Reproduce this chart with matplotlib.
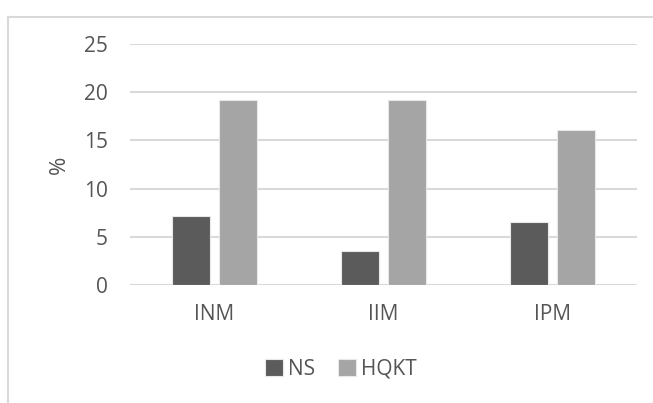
import numpy as np
import matplotlib.pyplot as plt
from matplotlib.lines import Line2D

plt.rcParams['font.family'] = ['Open Sans', 'DejaVu Sans']

categories = ['INM', 'IIM', 'IPM']
ns = [7.1, 3.5, 6.5]
hqkt = [19.2, 19.2, 16.1]
yticks = [0, 5, 10, 15, 20, 25]

text_color = '#555555'
grid_color = '#d9d9d9'

fig = plt.figure(figsize=(6.53, 4.03), dpi=100)
ax = fig.add_axes([0.199, 0.293, 0.776, 0.598])

x = np.arange(len(categories))
w = 0.225
off = 0.139
ax.bar(x - off, ns, width=w, color='#5b5b5b', edgecolor='#e8e8e8', linewidth=0.8, label='NS', zorder=3)
ax.bar(x + off, hqkt, width=w, color='#a5a5a5', edgecolor='#e8e8e8', linewidth=0.8, label='HQKT', zorder=3)

ax.set_xlim(-0.5, len(categories) - 0.5)
ax.set_ylim(0, 25)
ax.set_yticks(yticks)
ax.yaxis.grid(True, color=grid_color, linewidth=1.5)
ax.set_axisbelow(True)
for s in ax.spines.values():
    s.set_visible(False)
ax.tick_params(axis='y', length=0, labelsize=15, colors=text_color, pad=16)
ax.tick_params(axis='x', length=0, labelsize=15, colors=text_color, pad=14)
ax.set_xticks(x)
ax.set_xticklabels(categories)
ax.set_ylabel('%', fontsize=16, color=text_color, labelpad=10)

fig.legend(loc='center', bbox_to_anchor=(0.522, 0.084), ncol=2, frameon=False,
           fontsize=15, labelcolor=text_color, handlelength=0.85, handleheight=0.85,
           handletextpad=0.25, columnspacing=1.1)

# chart area border (top and left edges)
fig.add_artist(Line2D([8 / 653, 1], [1 - 17 / 403] * 2, color=grid_color, linewidth=1.5))
fig.add_artist(Line2D([8 / 653] * 2, [0, 1 - 17 / 403], color=grid_color, linewidth=1.5))

fig.savefig('out.png', dpi=100)
